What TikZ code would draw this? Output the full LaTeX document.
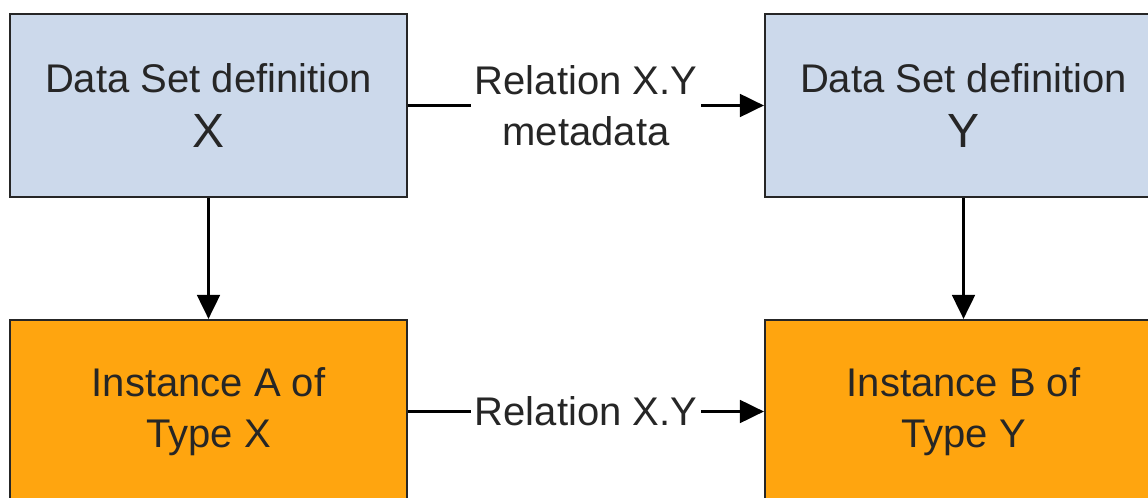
\documentclass[tikz,border=0pt]{standalone}
\usepackage{fontspec}
\setmainfont{Liberation Sans}
\usetikzlibrary{arrows.meta}
\definecolor{defblue}{RGB}{204,217,235}
\definecolor{instorange}{RGB}{255,165,15}
\begin{document}
\begin{tikzpicture}[x=0.75pt,y=-0.75pt,
  box/.style={draw=black!85,line width=1.6pt,minimum width=297.75pt,minimum height=137.25pt,inner sep=0pt,align=center,font=\fontsize{30}{38}\selectfont,text=black!85},
  defbox/.style={box,fill=defblue},
  instbox/.style={box,fill=instorange},
  rel/.style={align=center,inner xsep=3pt,inner ysep=0pt,font=\fontsize{30}{38}\selectfont,text=black!85},
  conn/.style={-{Triangle[length=18pt,width=17pt]},line width=2.2pt}]
\useasboundingbox (0,0) rectangle (1148,498);
% data set definitions
\node[defbox] (defX) at (208.5,105.5) {Data Set definition\\[3pt]{\fontsize{36}{38}\selectfont X}};
\node[defbox] (defY) at (963.5,105.5) {Data Set definition\\[3pt]{\fontsize{36}{38}\selectfont Y}};
% instances
\node[instbox] (instA) at (208.5,411.5) {Instance A of\\Type X};
\node[instbox] (instB) at (963.5,411.5) {Instance B of\\Type Y};
% relation labels
\node[rel] (relMeta) at (586,105.5) {Relation X.Y\\metadata};
\node[rel] (relInst) at (586,411.5) {Relation X.Y};
\draw[line width=2.2pt] (defX) -- (relMeta);
\draw[conn] (relMeta) -- (defY);
\draw[line width=2.2pt] (instA) -- (relInst);
\draw[conn] (relInst) -- (instB);
\draw[conn] (defX) -- (instA);
\draw[conn] (defY) -- (instB);
\end{tikzpicture}
\end{document}
